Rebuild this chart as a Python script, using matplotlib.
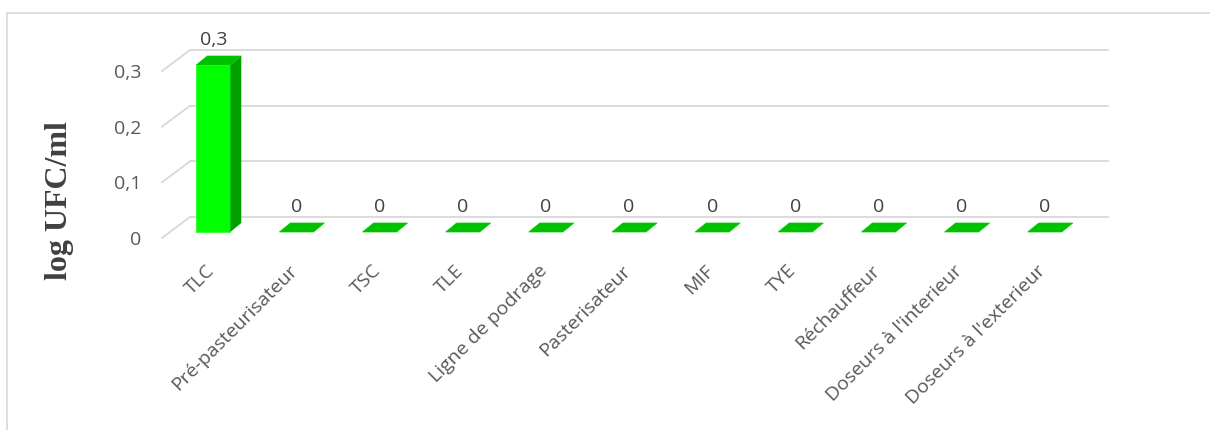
import numpy as np
import matplotlib.pyplot as plt
from matplotlib.patches import Polygon, Rectangle

# Sites sampled and measured counts
sites = ['TLC', 'Pré-pasteurisateur', 'TSC', 'TLE', 'Ligne de podrage',
         'Pasterisateur', 'MIF', 'TYE', 'Réchauffeur',
         "Doseurs à l'interieur", "Doseurs à l'exterieur"]
values = [0.3, 0, 0, 0, 0, 0, 0, 0, 0, 0, 0]
value_labels = ['0,3', '0', '0', '0', '0', '0', '0', '0', '0', '0', '0']
yticks = [0, 0.1, 0.2, 0.3]
ytick_labels = ['0', '0,1', '0,2', '0,3']

W, H, DPI = 1210, 430, 100
TXT = '#595959'
GRID = '#d9d9d9'
FS = 14

fig = plt.figure(figsize=(W / DPI, H / DPI), dpi=DPI)
fig.patch.set_facecolor('white')

# chart border (only top and left edges fall inside the image)
fig.add_artist(plt.Line2D([7 / W, 1], [1 - 13 / H, 1 - 13 / H], color=GRID, lw=1.2))
fig.add_artist(plt.Line2D([7 / W, 7 / W], [0, 1 - 13 / H], color=GRID, lw=1.2))

# axes = front edge of the floor
left, right, base, top = 162, 1080, 238, 71
ax = fig.add_axes([left / W, 1 - base / H, (right - left) / W, (base - top) / H])
ax.set_xlim(-0.52, 10.52)
ax.set_ylim(0, 0.3)
for s in ax.spines.values():
    s.set_visible(False)
ax.patch.set_alpha(0)


def px(dx, dy):
    # pixel offset -> data offset
    p0 = ax.transData.transform((0, 0))
    return ax.transData.inverted().transform(p0 + np.array([dx, dy]))


# walls: back wall gridlines + slanted side lines
wx, wy = px(28, 21)
x0, x1 = ax.get_xlim()
for t in yticks:
    ax.plot([x0 + wx, x1 + wx], [t + wy, t + wy], color=GRID, lw=1.3,
            clip_on=False, zorder=1)
    ax.plot([x0, x0 + wx], [t, t + wy], color=GRID, lw=1.3,
            clip_on=False, zorder=1)

# bars with a little depth
bw = 0.41
sx, sy = px(8, 6)      # front face shifted back from the floor edge
dx, dy = px(11, 9)     # bar depth
for i, v in enumerate(values):
    xa, xb = i - bw / 2 + sx, i + bw / 2 + sx
    ya, yb = sy, v + sy
    if v > 0:
        ax.add_patch(Rectangle((xa, ya), bw, v, facecolor='#00ff00',
                               edgecolor='#33ff33', lw=0.6, zorder=3, clip_on=False))
        ax.add_patch(Polygon([(xb, ya), (xb + dx, ya + dy), (xb + dx, yb + dy), (xb, yb)],
                             closed=True, facecolor='#00a000', edgecolor='none',
                             zorder=3, clip_on=False))
    ax.add_patch(Polygon([(xa, yb), (xb, yb), (xb + dx, yb + dy), (xa + dx, yb + dy)],
                         closed=True, facecolor='#00c000', edgecolor='#00d000', lw=0.5,
                         zorder=4, clip_on=False))
    ax.annotate(value_labels[i], (i + sx, yb + dy), xytext=(0, 5),
                textcoords='offset points', ha='center', va='bottom',
                fontsize=FS, family='Open Sans', color='#404040',
                annotation_clip=False)

ax.set_yticks(yticks)
ax.set_yticklabels(ytick_labels, fontsize=FS, family='Open Sans', color=TXT)
ax.tick_params(axis='y', length=0, pad=15)

ax.set_xticks(range(len(sites)))
ax.set_xticklabels(sites, rotation=45, ha='right', va='top', rotation_mode='anchor',
                   fontsize=FS, family='Open Sans', color=TXT)
ax.tick_params(axis='x', length=0, pad=17)

fig.text(59 / W, 1 - 201 / H, 'log UFC/ml', rotation=90, ha='center', va='center',
         fontsize=23, family='Liberation Serif', weight='bold', color='#404040')

fig.savefig('out.png', dpi=DPI)
